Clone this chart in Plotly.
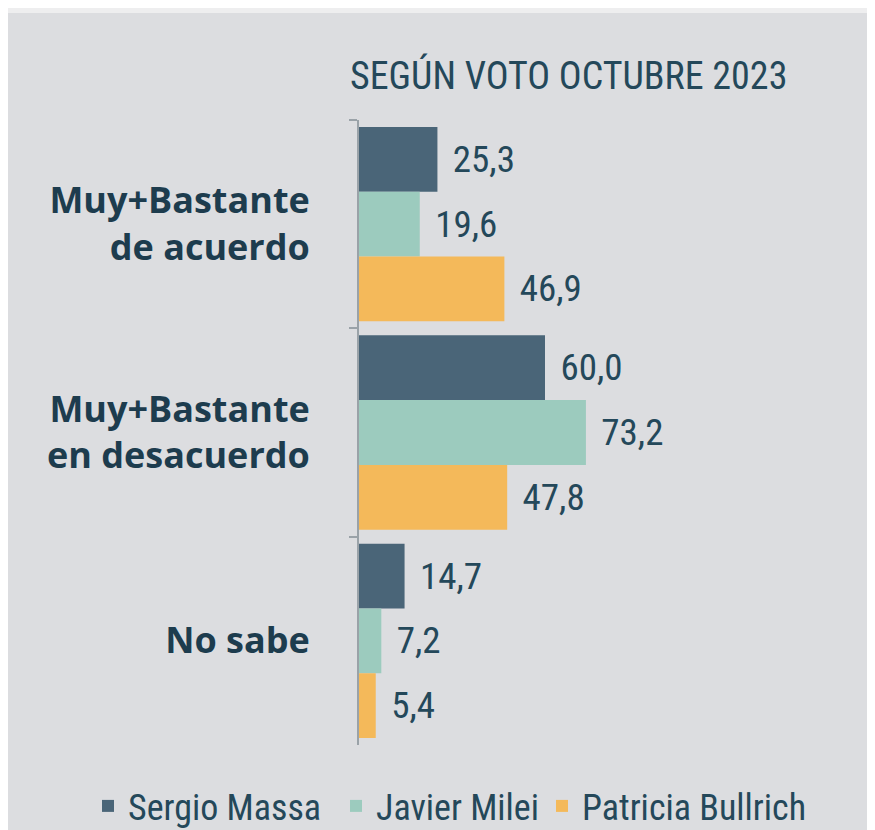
import plotly.graph_objects as go

# Datos: encuesta, según voto de octubre 2023
categorias = ["Muy+Bastante<br>de acuerdo", "Muy+Bastante<br>en desacuerdo", "No sabe"]
massa = [25.3, 60.0, 14.7]
milei = [19.6, 73.2, 7.2]
bullrich = [46.9, 47.8, 5.4]

candidatos = ["Sergio Massa", "Javier Milei", "Patricia Bullrich"]
colores = ["#4a6578", "#9ccbbe", "#f4b95a"]

# la página deja 8px de margen (body), así que todo va corrido 8px
W, H = 875, 830
L, R, T, B = 351, 20, 112, 93
pw, ph = W - L - R, H - T - B

TXT = "#24485a"
NARROW = "Liberation Sans Narrow, Arial Narrow, Roboto Condensed, sans-serif"

legendas = ["legend", "legend2", "legend3"]
legend_x = [80, 328, 534]   # borde izquierdo de cada leyenda, en px

fig = go.Figure()
for nombre, valores, color, lg in zip(candidatos, [massa, milei, bullrich], colores, legendas):
    fig.add_trace(go.Bar(
        y=categorias,
        x=valores,
        name=nombre,
        orientation="h",
        marker=dict(color=color, line=dict(width=0)),
        texttemplate="\u00a0\u200a%{x:.1f}",
        textposition="outside",
        textfont=dict(family=NARROW, size=37, color=TXT),
        cliponaxis=False,
        legend=lg,
    ))


def px_x(p):
    return (p - L) / pw


def px_y(p):
    return 1 - (p - T) / ph


# franja clara arriba
fig.add_shape(type="rect", xref="paper", yref="paper", layer="below",
              x0=px_x(0), x1=px_x(W), y0=px_y(0), y1=px_y(5),
              fillcolor="#eeeeef", line=dict(width=0))

fig.add_annotation(
    text="SEGÚN VOTO OCTUBRE 2023",
    xref="paper", yref="paper",
    x=px_x(340), y=px_y(68),
    xanchor="left", yanchor="middle",
    showarrow=False,
    font=dict(family=NARROW, size=38, color=TXT),
)

leg_style = dict(
    orientation="h",
    xref="container", yref="container",
    xanchor="left", yanchor="middle",
    y=1 - 798 / H,
    font=dict(family=NARROW, size=36, color=TXT),
    bgcolor="rgba(0,0,0,0)",
)

fig.update_layout(
    width=W, height=H,
    margin=dict(l=L, r=R, t=T, b=B, autoexpand=False),
    paper_bgcolor="#dcdde0",
    plot_bgcolor="rgba(0,0,0,0)",
    barmode="group",
    bargap=0.067,
    bargroupgap=0,
    separators=",.",
    showlegend=True,
    legend=dict(x=legend_x[0] / W, **leg_style),
    legend2=dict(x=legend_x[1] / W, **leg_style),
    legend3=dict(x=legend_x[2] / W, **leg_style),
)

fig.update_xaxes(
    range=[0, pw / 3.1],
    visible=False,
)
fig.update_yaxes(
    autorange="reversed",
    automargin=False,
    showline=True, linecolor="#9aa2a8", linewidth=2,
    ticks="outside", tickson="boundaries", ticklen=8, tickwidth=1.5, tickcolor="#9aa2a8",
    ticklabelstandoff=40,
    tickfont=dict(family="Open Sans", size=36, color="#1d3c4e", weight="bold"),
    showgrid=False,
)

fig.write_html("out.html")
